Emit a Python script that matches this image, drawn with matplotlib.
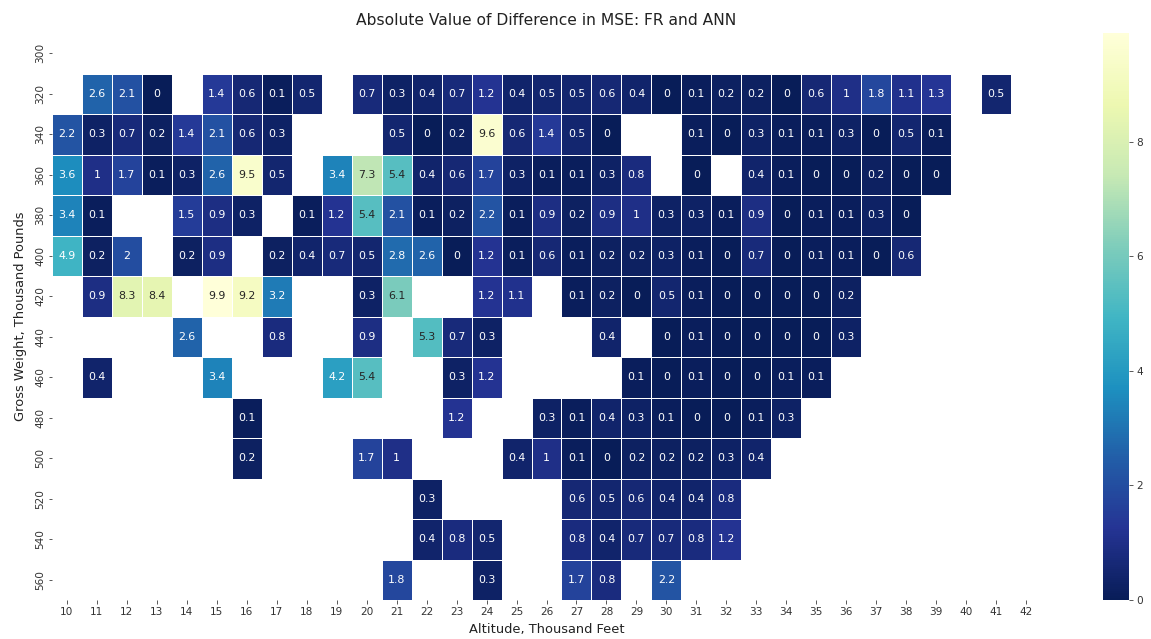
import numpy as np
import pandas as pd
import matplotlib
matplotlib.use("Agg")
import matplotlib.pyplot as plt
import seaborn as sns

# altitude columns (thousand ft) and gross weight rows (thousand lb)
altitudes = list(range(10, 43))
weights = list(range(300, 561, 20))

# |MSE(FR) - MSE(ANN)| per weight row, keyed by altitude
w300 = {}
w320 = {11: 2.6, 12: 2.1, 13: 0, 15: 1.4, 16: 0.6, 17: 0.1, 18: 0.5, 20: 0.7,
        21: 0.3, 22: 0.4, 23: 0.7, 24: 1.2, 25: 0.4, 26: 0.5, 27: 0.5, 28: 0.6,
        29: 0.4, 30: 0, 31: 0.1, 32: 0.2, 33: 0.2, 34: 0, 35: 0.6, 36: 1,
        37: 1.8, 38: 1.1, 39: 1.3, 41: 0.5}
w340 = {10: 2.2, 11: 0.3, 12: 0.7, 13: 0.2, 14: 1.4, 15: 2.1, 16: 0.6, 17: 0.3,
        21: 0.5, 22: 0, 23: 0.2, 24: 9.6, 25: 0.6, 26: 1.4, 27: 0.5, 28: 0,
        31: 0.1, 32: 0, 33: 0.3, 34: 0.1, 35: 0.1, 36: 0.3, 37: 0, 38: 0.5,
        39: 0.1}
w360 = {10: 3.6, 11: 1, 12: 1.7, 13: 0.1, 14: 0.3, 15: 2.6, 16: 9.5, 17: 0.5,
        19: 3.4, 20: 7.3, 21: 5.4, 22: 0.4, 23: 0.6, 24: 1.7, 25: 0.3, 26: 0.1,
        27: 0.1, 28: 0.3, 29: 0.8, 31: 0, 33: 0.4, 34: 0.1, 35: 0, 36: 0,
        37: 0.2, 38: 0, 39: 0}
w380 = {10: 3.4, 11: 0.1, 14: 1.5, 15: 0.9, 16: 0.3, 18: 0.1, 19: 1.2, 20: 5.4,
        21: 2.1, 22: 0.1, 23: 0.2, 24: 2.2, 25: 0.1, 26: 0.9, 27: 0.2, 28: 0.9,
        29: 1, 30: 0.3, 31: 0.3, 32: 0.1, 33: 0.9, 34: 0, 35: 0.1, 36: 0.1,
        37: 0.3, 38: 0}
w400 = {10: 4.9, 11: 0.2, 12: 2, 14: 0.2, 15: 0.9, 17: 0.2, 18: 0.4, 19: 0.7,
        20: 0.5, 21: 2.8, 22: 2.6, 23: 0, 24: 1.2, 25: 0.1, 26: 0.6, 27: 0.1,
        28: 0.2, 29: 0.2, 30: 0.3, 31: 0.1, 32: 0, 33: 0.7, 34: 0, 35: 0.1,
        36: 0.1, 37: 0, 38: 0.6}
w420 = {11: 0.9, 12: 8.3, 13: 8.4, 15: 9.9, 16: 9.2, 17: 3.2, 20: 0.3, 21: 6.1,
        24: 1.2, 25: 1.1, 27: 0.1, 28: 0.2, 29: 0, 30: 0.5, 31: 0.1, 32: 0,
        33: 0, 34: 0, 35: 0, 36: 0.2}
w440 = {14: 2.6, 17: 0.8, 20: 0.9, 22: 5.3, 23: 0.7, 24: 0.3, 28: 0.4, 30: 0,
        31: 0.1, 32: 0, 33: 0, 34: 0, 35: 0, 36: 0.3}
w460 = {11: 0.4, 15: 3.4, 19: 4.2, 20: 5.4, 23: 0.3, 24: 1.2, 29: 0.1, 30: 0,
        31: 0.1, 32: 0, 33: 0, 34: 0.1, 35: 0.1}
w480 = {16: 0.1, 23: 1.2, 26: 0.3, 27: 0.1, 28: 0.4, 29: 0.3, 30: 0.1, 31: 0,
        32: 0, 33: 0.1, 34: 0.3}
w500 = {16: 0.2, 20: 1.7, 21: 1, 25: 0.4, 26: 1, 27: 0.1, 28: 0, 29: 0.2,
        30: 0.2, 31: 0.2, 32: 0.3, 33: 0.4}
w520 = {22: 0.3, 27: 0.6, 28: 0.5, 29: 0.6, 30: 0.4, 31: 0.4, 32: 0.8}
w540 = {22: 0.4, 23: 0.8, 24: 0.5, 27: 0.8, 28: 0.4, 29: 0.7, 30: 0.7,
        31: 0.8, 32: 1.2}
w560 = {21: 1.8, 24: 0.3, 27: 1.7, 28: 0.8, 30: 2.2}

rows = [w300, w320, w340, w360, w380, w400, w420, w440, w460, w480,
        w500, w520, w540, w560]
diff = pd.DataFrame([[r.get(a, np.nan) for a in altitudes] for r in rows],
                    index=weights, columns=altitudes)

fig = plt.figure(figsize=(1151 / 72, 639 / 72), dpi=72)
ax = fig.add_axes([52 / 1151, 39 / 639, 989 / 1151, 567 / 639])
cax = fig.add_axes([1103 / 1151, 39 / 639, 26 / 1151, 567 / 639])

sns.heatmap(diff, ax=ax, cbar_ax=cax, cmap="YlGnBu_r", annot=True, fmt="g",
            linewidths=0.8, linecolor="white", annot_kws={"fontsize": 11})

ax.set_title("Absolute Value of Difference in MSE: FR and ANN",
             fontsize=15.5, pad=8, color="#222222")
ax.set_xlabel("Altitude, Thousand Feet", fontsize=13, color="#222222", labelpad=6)
ax.set_ylabel("Gross Weight, Thousand Pounds", fontsize=13, color="#222222",
              labelpad=8)
ax.tick_params(labelsize=10.5, colors="#333333")
cax.tick_params(labelsize=10.5, colors="#333333")

fig.savefig("out.png", dpi=72)
